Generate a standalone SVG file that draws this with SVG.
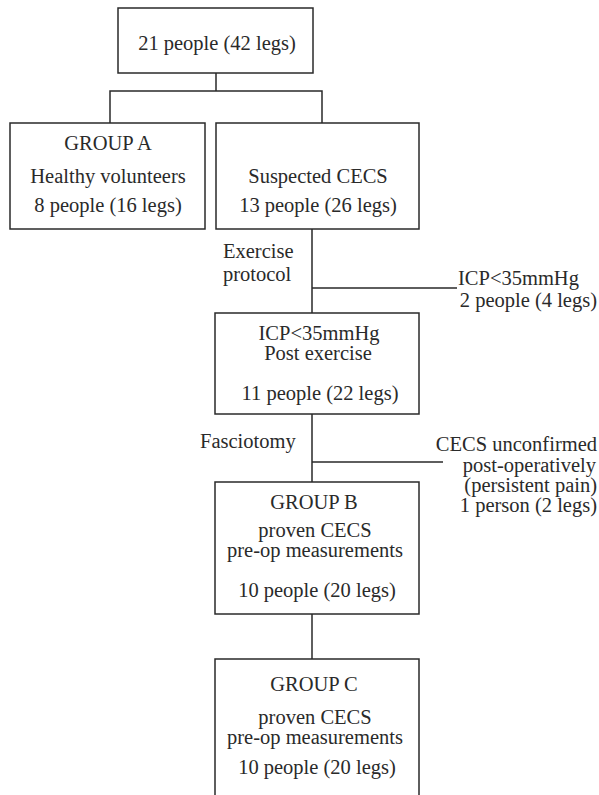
<svg xmlns="http://www.w3.org/2000/svg" width="599" height="795" viewBox="0 0 599 795">
<style>
.box{fill:#fff;stroke:#2a2a2a;stroke-width:1.5}
.ln{fill:none;stroke:#2a2a2a;stroke-width:1.5}
text{font-family:"Liberation Serif","Times New Roman",serif;font-size:20.5px;fill:#2a2a2a}
.c{text-anchor:middle}
.r{text-anchor:end}
</style>
<rect width="599" height="795" fill="#fff"/>
<g id="connectors">
<path class="ln" d="M216 73V91M110 123V91H322V123"/>
<path class="ln" d="M312 229V313M312 288H457"/>
<path class="ln" d="M312 414V482M312 462H443"/>
<path class="ln" d="M312 614V659"/>
</g>
<g id="top">
<rect class="box" x="118" y="8" width="195" height="65"/>
<text class="c" x="217" y="50">21 people (42 legs)</text>
</g>
<g id="groupA">
<rect class="box" x="10" y="123" width="195" height="106"/>
<text class="c" x="108" y="150">GROUP A</text>
<text class="c" x="108" y="183">Healthy volunteers</text>
<text class="c" x="108" y="212">8 people (16 legs)</text>
</g>
<g id="suspected">
<rect class="box" x="216" y="123" width="203" height="106"/>
<text class="c" x="318" y="183">Suspected CECS</text>
<text class="c" x="318" y="212">13 people (26 legs)</text>
</g>
<g id="exercise-label">
<text x="223" y="258">Exercise</text>
<text x="223" y="281">protocol</text>
</g>
<g id="excluded1">
<text x="458" y="285">ICP&lt;35mmHg</text>
<text class="r" x="597" y="307">2 people (4 legs)</text>
</g>
<g id="icp">
<rect class="box" x="215" y="313" width="204" height="101"/>
<text class="c" x="319" y="340">ICP&lt;35mmHg</text>
<text class="c" x="318" y="360">Post exercise</text>
<text class="c" x="320" y="400">11 people (22 legs)</text>
</g>
<g id="fasciotomy-label">
<text x="200" y="448">Fasciotomy</text>
</g>
<g id="excluded2">
<text class="r" x="597" y="451">CECS unconfirmed</text>
<text class="r" x="596" y="472">post-operatively</text>
<text class="r" x="597" y="492">(persistent pain)</text>
<text class="r" x="597" y="512">1 person (2 legs)</text>
</g>
<g id="groupB">
<rect class="box" x="215" y="482" width="204" height="132"/>
<text class="c" x="314" y="509">GROUP B</text>
<text class="c" x="315" y="537">proven CECS</text>
<text class="c" x="315" y="557">pre-op measurements</text>
<text class="c" x="317" y="597">10 people (20 legs)</text>
</g>
<g id="groupC">
<path class="box" d="M215 795V659H419V795"/>
<text class="c" x="314" y="691">GROUP C</text>
<text class="c" x="315" y="724">proven CECS</text>
<text class="c" x="315" y="744">pre-op measurements</text>
<text class="c" x="317" y="774">10 people (20 legs)</text>
</g>
</svg>
